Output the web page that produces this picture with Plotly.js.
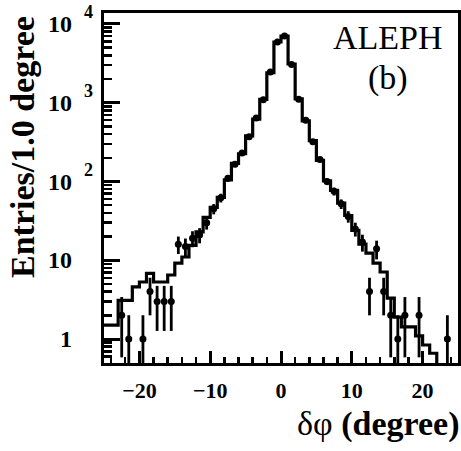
<!DOCTYPE html>
<html>
<head>
<meta charset="utf-8">
<script src="https://cdn.plot.ly/plotly-3.0.1.min.js"></script>
<style>html,body{margin:0;padding:0;background:#fff;}#chart{width:461px;height:451px;}</style>
</head>
<body>
<div id="chart"></div>
<script>
// Histogram (simulation) — bin edges and contents per 1.0 degree
const binEdges = [-25,-24,-23,-22,-21,-20,-19,-18,-17,-16,-15,-14,-13,-12,-11,-10,-9,-8,-7,-6,-5,-4,-3,-2,-1,0,1,2,3,4,5,6,7,8,9,10,11,12,13,14,15,16,17,18,19,20,21,22,23,24,25];
const histVal = [1.5,1.5,3.1,3.1,4.6,5.3,6.8,5.3,5.3,6.5,9.2,11,15.5,23,35,47,63,105,170,225,380,620,1100,2400,5900,7000,3100,1120,590,330,185,102,77,53,37,24,16,12.3,9.2,7.1,3.3,1.9,1.43,1.43,1.1,0.84,0.66,0.1,0.1,0.1];

// Data points (bin centres, entries)
const dataX = [-22.5,-21.5,-19.5,-18.5,-17.5,-16.5,-15.5,-14.5,-13.5,-12.5,-11.5,-10.5,-9.5,-8.5,-7.5,-6.5,-5.5,-4.5,-3.5,-2.5,-1.5,-0.5,0.5,1.5,2.5,3.5,4.5,5.5,6.5,7.5,8.5,9.5,10.5,11.5,12.5,13.5,14.5,15.5,16.5,17.5,19.5,23.5];
const dataN = [2,1,1,4,3,3,3,16,15,19,21,30,45,62,110,165,230,370,640,1090,2450,5900,7050,3050,1110,600,320,190,100,75,52,36,25,17,4,14,4,2,1,2,2,1];

// Tick labels
const xTickVals = [-20,-10,0,10,20];
const yTickVals = [1,10,100,1000,10000];
const yTickBase = ['1','10','10','10','10'];
const yTickExp  = ['','','2','3','4'];

const errPlus = dataN.map(n => Math.sqrt(n));
const errMinus = dataN.map(n => Math.min(Math.sqrt(n), 0.999 * n));

const histTrace = {
  x: binEdges,
  y: histVal.concat([histVal[histVal.length - 1]]),
  type: 'scatter', mode: 'lines',
  line: {shape: 'hv', color: '#000', width: 3.2},
  hoverinfo: 'skip', showlegend: false
};
const dataTrace = {
  x: dataX, y: dataN, type: 'scatter', mode: 'markers',
  marker: {color: '#000', size: 7, symbol: 'circle'},
  error_y: {type: 'data', symmetric: false, array: errPlus, arrayminus: errMinus, color: '#000', thickness: 2.8, width: 0},
  showlegend: false
};

const serif = '"Times New Roman", "Liberation Serif", Times, "DejaVu Serif", serif';
const L = 104, R = 458, T = 13, B = 363;
const px2paperX = p => (p - L) / (R - L);
const px2paperY = p => (B - p) / (B - T);

const annotations = [];
yTickVals.forEach((v, i) => {
  annotations.push({
    xref: 'paper', yref: 'y', x: px2paperX(74), y: Math.log10(v),
    xanchor: 'right', yanchor: 'middle', showarrow: false,
    text: '<b>' + yTickBase[i] + '</b>', font: {family: serif, size: 24, color: '#000'}
  });
  if (yTickExp[i]) {
    annotations.push({
      xref: 'paper', yref: 'y', x: px2paperX(82), y: Math.log10(v), yshift: 12,
      xanchor: 'left', yanchor: 'middle', showarrow: false,
      text: '<b>' + yTickExp[i] + '</b>', font: {family: serif, size: 18, color: '#000'}
    });
  }
});
annotations.push({
  xref: 'paper', yref: 'paper', x: px2paperX(22), y: px2paperY(147),
  xanchor: 'center', yanchor: 'middle', textangle: -90, showarrow: false,
  text: '<b>Entries/1.0 degree</b>', font: {family: serif, size: 34, color: '#000'}
});
annotations.push({
  xref: 'paper', yref: 'paper', x: px2paperX(461), y: px2paperY(424),
  xanchor: 'right', yanchor: 'middle', showarrow: false,
  text: 'δφ <b>(degree)</b>', font: {family: serif, size: 34, color: '#000'}
});
annotations.push({
  xref: 'paper', yref: 'paper', x: px2paperX(388), y: px2paperY(38),
  xanchor: 'center', yanchor: 'middle', showarrow: false,
  text: 'ALEPH', font: {family: serif, size: 34, color: '#000'}
});
annotations.push({
  xref: 'paper', yref: 'paper', x: px2paperX(388), y: px2paperY(78),
  xanchor: 'center', yanchor: 'middle', showarrow: false,
  text: '(b)', font: {family: serif, size: 34, color: '#000'}
});

const layout = {
  width: 461, height: 451,
  margin: {l: L, r: 461 - R, t: T, b: 451 - B, pad: 0},
  paper_bgcolor: '#fff', plot_bgcolor: '#fff',
  font: {family: serif, color: '#000'},
  showlegend: false,
  xaxis: {
    range: [-25, 25], showgrid: false, zeroline: false,
    showline: true, linecolor: '#000', linewidth: 3, mirror: true,
    ticks: 'inside', ticklen: 12, tickwidth: 3, tickcolor: '#000',
    tickmode: 'array', tickvals: xTickVals,
    ticklabelstandoff: 6,
    tickfont: {family: serif, size: 22, color: '#000', weight: 'bold'},
    minor: {ticks: 'inside', ticklen: 6, tickwidth: 2.5, tickcolor: '#000', dtick: 2, tick0: 0}
  },
  yaxis: {
    type: 'log', range: [-0.304, 4.139], showgrid: false, zeroline: false,
    showline: true, linecolor: '#000', linewidth: 3, mirror: true,
    ticks: 'inside', ticklen: 16, tickwidth: 3, tickcolor: '#000',
    tickmode: 'array', tickvals: yTickVals, showticklabels: false,
    minor: {ticks: 'inside', ticklen: 8, tickwidth: 2.5, tickcolor: '#000', dtick: 'D1'}
  },
  annotations: annotations
};

Plotly.newPlot('chart', [histTrace, dataTrace], layout, {staticPlot: true, displayModeBar: false});
</script>
</body>
</html>
